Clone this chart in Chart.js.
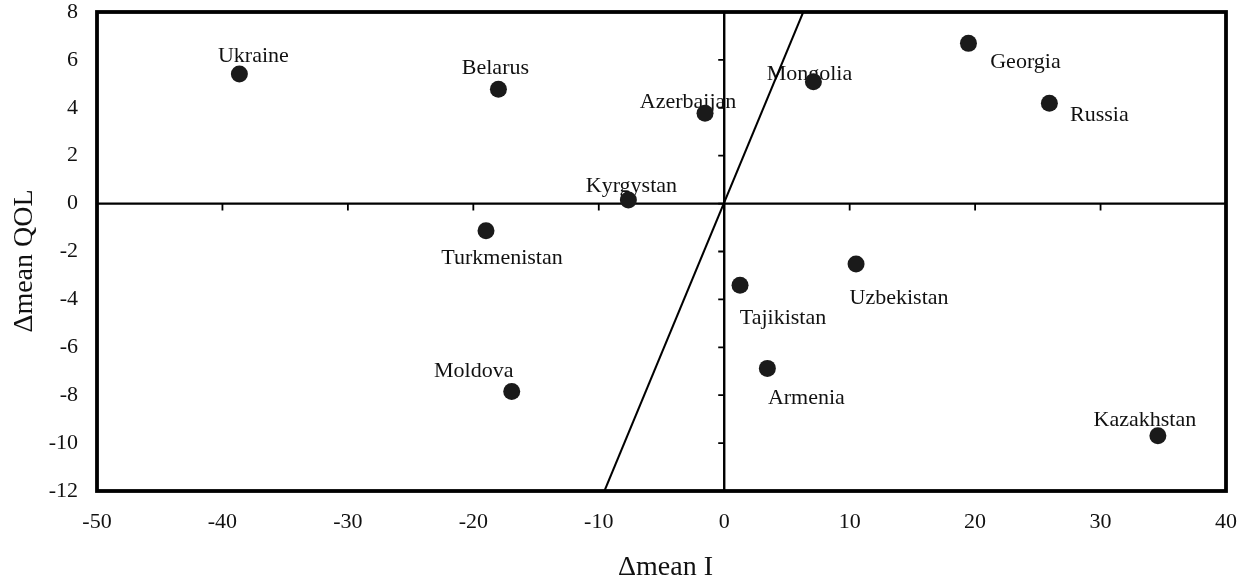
<!DOCTYPE html>
<html>
<head>
<meta charset="utf-8">
<script src="https://cdn.jsdelivr.net/npm/chart.js@4"></script>
<style>
  html, body { margin: 0; padding: 0; background: #fff; }
  #wrap { width: 1249px; height: 579px; }
</style>
</head>
<body>
<div id="wrap"><canvas id="c" width="1249" height="579"></canvas></div>
<script>
// Change in mean inequality (x) against change in mean quality of life (y)
const countries = ['Ukraine', 'Belarus', 'Azerbaijan', 'Kyrgystan', 'Mongolia', 'Georgia', 'Russia',
                   'Turkmenistan', 'Tajikistan', 'Armenia', 'Moldova', 'Uzbekistan', 'Kazakhstan'];
const deltaMeanI   = [-38.65, -18.0, -1.53, -7.64, 7.11, 19.47, 25.92, -18.99, 1.26, 3.44, -16.94, 10.51, 34.57];
const deltaMeanQOL = [5.41, 4.77, 3.77, 0.15, 5.09, 6.69, 4.19, -1.13, -3.41, -6.88, -7.85, -2.52, -9.69];

// Fitted line end points
const fitLineI   = [-9.55, 6.3];
const fitLineQOL = [-12, 8];

// Axis ranges and tick steps
const xRange = [-50, 40], xStep = 10;
const yRange = [-12, 8],  yStep = 2;

const axisTitleX = '\u0394mean I';
const axisTitleY = '\u0394mean QOL';

const FONT = '"Liberation Serif", "Times New Roman", serif';

// Label placement relative to each point (dx, baseline dy) in px
const labelOffsets = {
  Ukraine: [14, -12.5], Belarus: [-3, -15.3], Azerbaijan: [-17, -5.7], Kyrgystan: [3, -7.7],
  Mongolia: [-4, -1.7], Georgia: [57, 24.3], Russia: [50, 17.3], Turkmenistan: [16, 33.3],
  Tajikistan: [43, 38.3], Armenia: [39, 35.3], Moldova: [-38, -14.7], Uzbekistan: [43, 40.3],
  Kazakhstan: [-13, -9.7]
};

const points = deltaMeanI.map((v, i) => ({ x: v, y: deltaMeanQOL[i] }));
const fitLine = fitLineI.map((v, i) => ({ x: v, y: fitLineQOL[i] }));

// Keep tick-label overhang from shrinking the plot area
function fixBox(size, key) {
  return scale => {
    scale[key] = size;
    scale.paddingTop = scale.paddingBottom = scale.paddingLeft = scale.paddingRight = 0;
  };
}

// Axes crossing at the origin, point labels, frame and axis titles
const decor = {
  id: 'decor',
  beforeDatasetsDraw(chart) {
    const { ctx, chartArea: a, scales: { x, y } } = chart;
    const x0 = x.getPixelForValue(0), y0 = y.getPixelForValue(0);
    ctx.save();
    ctx.strokeStyle = '#000';
    ctx.lineWidth = 2.4;
    ctx.beginPath();
    ctx.moveTo(a.left, y0); ctx.lineTo(a.right, y0);
    ctx.moveTo(x0, a.top); ctx.lineTo(x0, a.bottom);
    ctx.stroke();
    ctx.lineWidth = 1.8;
    ctx.beginPath();
    x.ticks.forEach(t => {
      const px = x.getPixelForValue(t.value);
      ctx.moveTo(px, y0); ctx.lineTo(px, y0 + 7);
    });
    y.ticks.forEach(t => {
      const py = y.getPixelForValue(t.value);
      ctx.moveTo(x0 - 6, py); ctx.lineTo(x0, py);
    });
    ctx.stroke();

    const meta = chart.getDatasetMeta(0);
    ctx.font = '22px ' + FONT;
    ctx.fillStyle = '#111';
    ctx.textAlign = 'center';
    ctx.textBaseline = 'alphabetic';
    meta.data.forEach((pt, i) => {
      const [dx, dy] = labelOffsets[countries[i]];
      ctx.fillText(countries[i], pt.x + dx, pt.y + dy);
    });
    ctx.restore();
  },
  afterDraw(chart) {
    const { ctx, chartArea: a } = chart;
    ctx.save();
    ctx.strokeStyle = '#000';
    ctx.lineWidth = 3.8;
    ctx.strokeRect(a.left, a.top, a.right - a.left, a.bottom - a.top);

    ctx.fillStyle = '#111';
    ctx.font = '28px ' + FONT;
    ctx.textAlign = 'center';
    ctx.textBaseline = 'alphabetic';
    ctx.fillText(axisTitleX, (a.left + a.right) / 2 + 4, 574.5);
    ctx.translate(32, (a.top + a.bottom) / 2 + 9.5);
    ctx.rotate(-Math.PI / 2);
    ctx.fillText(axisTitleY, 0, 0);
    ctx.restore();
  }
};

new Chart(document.getElementById('c'), {
  type: 'scatter',
  data: {
    datasets: [
      {
        label: 'Countries',
        data: points,
        backgroundColor: '#1a1a1a',
        borderWidth: 0,
        pointRadius: 8.5,
        pointHoverRadius: 8.5
      },
      {
        label: 'Fit',
        type: 'line',
        data: fitLine,
        borderColor: '#000',
        borderWidth: 2,
        pointRadius: 0,
        fill: false,
        tension: 0
      }
    ]
  },
  options: {
    responsive: false,
    animation: false,
    events: [],
    layout: { padding: { left: 0, right: 23, top: 12, bottom: 0 } },
    plugins: { legend: { display: false }, tooltip: { enabled: false } },
    scales: {
      x: {
        type: 'linear',
        min: xRange[0], max: xRange[1],
        grid: { display: false, drawTicks: false },
        border: { display: false },
        ticks: {
          stepSize: xStep,
          padding: 20,
          color: '#111',
          font: { family: FONT, size: 22, lineHeight: 1 },
          maxRotation: 0
        },
        afterFit: fixBox(88, 'height')
      },
      y: {
        type: 'linear',
        min: yRange[0], max: yRange[1],
        grid: { display: false, drawTicks: false },
        border: { display: false },
        ticks: {
          stepSize: yStep,
          padding: 19,
          color: '#111',
          font: { family: FONT, size: 22, lineHeight: 1 }
        },
        afterFit: fixBox(97, 'width')
      }
    }
  },
  plugins: [decor]
});
</script>
</body>
</html>
